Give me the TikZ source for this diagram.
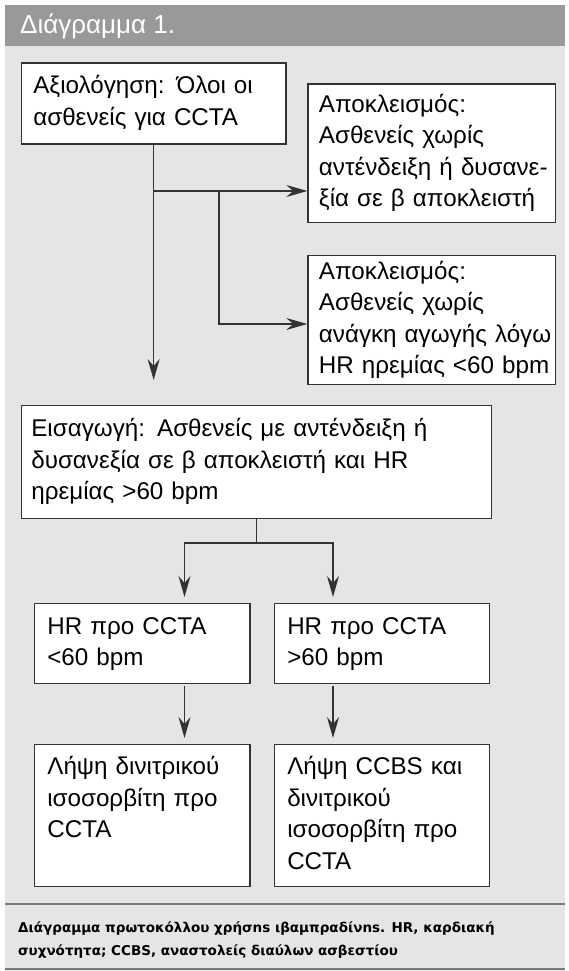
\documentclass[tikz,border=0pt]{standalone}
\usepackage{fontspec}
\setmainfont{Liberation Sans}
\newfontfamily\capfont{DejaVu Sans}
\usetikzlibrary{arrows.meta}
\definecolor{hdr}{HTML}{999999}
\definecolor{bgc}{HTML}{E5E5E5}
\definecolor{ln}{HTML}{333333}
\definecolor{sepc}{HTML}{7A7A7A}
\newcommand\bxt[1]{\begin{tabular}{@{}l@{}}#1\end{tabular}}
\begin{document}
\begin{tikzpicture}[x=1pt,y=-1pt,
  box/.style={draw=ln, line width=1.3pt, fill=white, anchor=north west, align=left,
    inner xsep=12pt, inner ysep=0pt, font=\fontsize{24.2}{31.5}\selectfont},
  conn/.style={draw=ln, line width=1.3pt},
  arr/.style={conn, -{Stealth[length=21pt,width=12pt,inset=7pt]}}]
\useasboundingbox (0,0) rectangle (568,971);
\fill[white] (0,0) rectangle (568,971);
\fill[bgc] (5,46) rectangle (565,971);
\fill[hdr] (5,5) rectangle (565,46);
\node[anchor=base west, inner sep=0pt, text=white, font=\fontsize{26}{28}\selectfont] (title) at (20,34) {Διάγραμμα 1.};

\node[box, minimum width=264.6pt, minimum height=81pt, text width=240.6pt] (b1) at (20.7,62.3)
  {\bxt{Αξιολόγηση: Όλοι οι\\ασθενείς για CCTA}};
\node[box, minimum width=247.4pt, minimum height=138.7pt, text width=225.4pt, inner xsep=11pt] (b2) at (307.3,83.3)
  {\bxt{Αποκλεισμός:\\Ασθενείς χωρίς\\αντένδειξη ή δυσανε-\\ξία σε β αποκλειστή}};
\node[box, minimum width=247.4pt, minimum height=129pt, text width=225.4pt, inner xsep=11pt] (b3) at (307.3,255)
  {\bxt{Αποκλεισμός:\\Ασθενείς χωρίς\\ανάγκη αγωγής λόγω\\HR ηρεμίας <60 bpm}};
\node[box, minimum width=470.3pt, minimum height=112.7pt, text width=450.3pt, inner xsep=10pt] (b4) at (20.7,405)
  {\bxt{Εισαγωγή: Ασθενείς με αντένδειξη ή\\δυσανεξία σε β αποκλειστή και HR\\ηρεμίας >60 bpm}};
\node[box, minimum width=215.6pt, minimum height=80pt, text width=189.6pt, inner xsep=13pt] (b5) at (33.7,603)
  {\bxt{HR προ CCTA\\<60 bpm}};
\node[box, minimum width=215.4pt, minimum height=80pt, text width=189.4pt, inner xsep=13pt] (b6) at (273.6,603)
  {\bxt{HR προ CCTA\\>60 bpm}};
\node[box, minimum width=215.6pt, minimum height=142pt, text width=189.6pt, inner xsep=13pt] (b7) at (33.7,744)
  {\bxt{Λήψη δινιτρικού\\ισοσορβίτη προ\\CCTA\\\mbox{}}};
\node[box, minimum width=215.4pt, minimum height=142pt, text width=189.4pt, inner xsep=13pt] (b8) at (273.6,744)
  {\bxt{Λήψη CCBS και\\δινιτρικού\\ισοσορβίτη προ\\CCTA}};

\coordinate (e1) at (b1.south |- 0,380);
\coordinate (j1) at (b1.south |- 0,191);
\coordinate (j2) at (219,191);
\coordinate (j3) at (219,324);
\draw[arr] (b1.south) -- (e1);
\draw[arr] (j1) -- (j1 -| b2.west);
\draw[arr] (j2) -- (j3) -- (j3 -| b3.west);

\coordinate (j4) at (b4.south |- 0,543);
\coordinate (j5) at (184.5,543);
\coordinate (j6) at (333,543);
\draw[conn] (b4.south) -- (j4);
\draw[arr, shorten >=6pt] (j4) -| (b5.north -| j5);
\draw[arr, shorten >=6pt] (j4) -| (b6.north -| j6);
\draw[arr, shorten <=2pt, shorten >=6pt] (b5.south -| j5) -- (b7.north -| j5);
\draw[arr, shorten <=2pt, shorten >=6pt] (b6.south -| j6) -- (b8.north -| j6);

\draw[sepc, line width=2.5pt] (5,904) -- (565,904);
\draw[sepc, line width=2.5pt] (5,969) -- (565,969);
\node[anchor=north west, inner sep=0pt, align=left, font=\capfont\bfseries\fontsize{13.5}{23}\selectfont] (cap) at (18,915.9)
  {\bxt{Διάγραμμα πρωτοκόλλου χρήσns ιβαμπραδίνns. HR, καρδιακή\\συχνότητα; CCBS, αναστολείς διαύλων ασβεστίου}};
\end{tikzpicture}
\end{document}
